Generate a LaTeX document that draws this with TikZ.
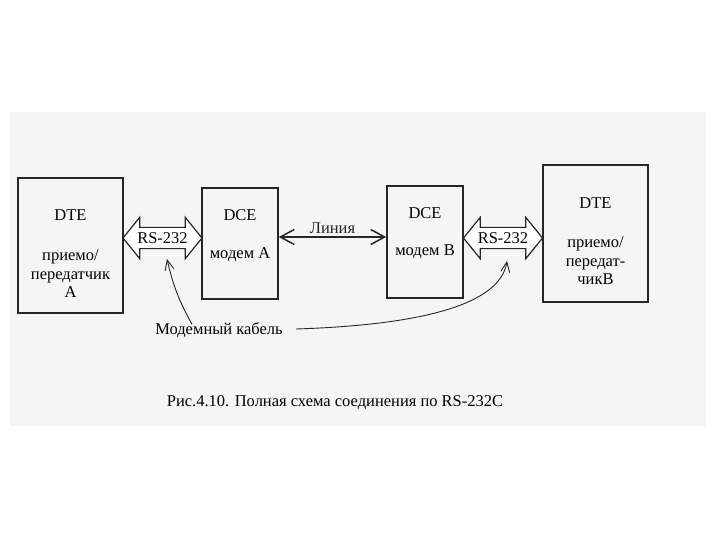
\documentclass[tikz,border=0pt]{standalone}
\usepackage{fontspec}
\setmainfont{Liberation Serif}
\newfontfamily\diagfont{Liberation Serif}
\usepackage{tikz}
\usetikzlibrary{arrows.meta,positioning,shapes.arrows}

\begin{document}
\begin{tikzpicture}[
  x=1pt,y=-1pt,
  scan/.style={fill=black!4,draw=none},
  unit/.style={rectangle,draw=black!85,line width=1.5pt,inner sep=0pt},
  lbl/.style={font=\diagfont\fontsize{16.5}{18.5}\selectfont,align=center,inner sep=0pt},
  rsarrow/.style={double arrow,draw=black!85,line width=1.2pt,fill=white,
               double arrow head extend=10pt,double arrow tip angle=102,
               minimum height=79pt,minimum width=40pt,inner xsep=0pt,inner ysep=4.5pt,
               font=\diagfont\fontsize{16.5}{18}\selectfont},
  lineconn/.style={{Straight Barb[length=14pt,width=15pt]}-{Straight Barb[length=14pt,width=15pt]},line width=1.5pt,black!85},
  cablearr/.style={-{Straight Barb[length=10pt,width=9pt]},line width=0.9pt,black!85}
]
  \useasboundingbox (0,0) rectangle (720,540);
  \path[scan] (10,112) rectangle (706,426);

  % equipment boxes
  \node[unit,minimum width=105pt,minimum height=135pt] (dteA) at (70.5,245.5) {};
  \node[unit,minimum width=76pt,minimum height=111pt] (dceA) at (240,243.5) {};
  \node[unit,minimum width=76pt,minimum height=112pt] (dceB) at (425,242) {};
  \node[unit,minimum width=105pt,minimum height=137pt] (dteB) at (595.5,233.5) {};

  \node[lbl] (dteAtitle) at (70.5,215) {DTE};
  \node[lbl] (dteAtext) at (70.5,274) {приемо/\\передатчик\\А};
  \node[lbl] (dceAtitle) at (240,215) {DCE};
  \node[lbl] (dceAtext) at (240,255) {модем А};
  \node[lbl] (dceBtitle) at (425,213) {DCE};
  \node[lbl] (dceBtext) at (425,252) {модем В};
  \node[lbl] (dteBtitle) at (595.5,203) {DTE};
  \node[lbl] (dteBtext) at (595.5,261) {приемо/\\передат-\\чикВ};

  % interfaces
  \node[rsarrow] (rsA) at (162.5,238) {RS-232};
  \node[rsarrow] (rsB) at (503,238) {RS-232};

  \coordinate (lineA) at (dceA.east |- 0,237);
  \coordinate (lineB) at (dceB.west |- 0,237);
  \draw[lineconn] (lineA) -- node[lbl,above=3pt] (linelbl) {Линия} (lineB);

  % cable
  \node[lbl] (cable) at (219,330) {Модемный кабель};
  \coordinate (cableA) at (167,259);
  \coordinate (cableB) at (507,261);
  \draw[cablearr] ([xshift=-27pt,yshift=-2pt]cable.north) to[bend left=8] (cableA);
  \draw[cablearr] ([xshift=13pt,yshift=1pt]cable.east) .. controls (420,325) and (500,305) .. (cableB);

  \node[lbl] (caption) at (335,403) {Рис.4.10. Полная схема соединения по RS-232С};
\end{tikzpicture}
\end{document}
